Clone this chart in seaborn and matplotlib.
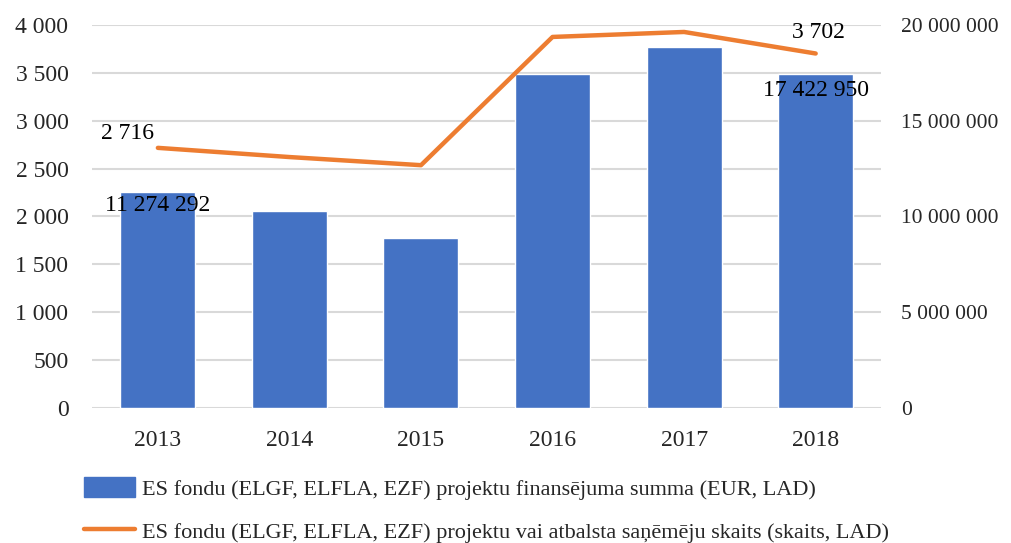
import matplotlib
matplotlib.use("Agg")
import matplotlib.pyplot as plt
import matplotlib.ticker as mticker
from matplotlib.patches import Patch
from matplotlib.lines import Line2D
import seaborn as sns
import pandas as pd

years = ["2013", "2014", "2015", "2016", "2017", "2018"]
funding_eur = [11274292, 10290000, 8880000, 17440000, 18850000, 17422950]
recipients = [2716, 2620, 2535, 3875, 3927, 3702]

bar_label = "ES fondu (ELGF, ELFLA, EZF) projektu finansējuma summa (EUR, LAD)"
line_label = "ES fondu (ELGF, ELFLA, EZF) projektu vai atbalsta saņēmēju skaits (skaits, LAD)"

df = pd.DataFrame({"year": years, "funding": funding_eur, "count": recipients})

sns.set_theme(style="white")
plt.rcParams["font.family"] = ["Liberation Serif", "DejaVu Serif"]
FS = 17

BLUE = "#4472C4"
ORANGE = "#ED7D31"
GRID = "#D9D9D9"

fig = plt.figure(figsize=(10.12, 5.43), dpi=100)
ax = fig.add_axes([0.091, 0.249, 0.780, 0.705])

sns.barplot(data=df, x="year", y="funding", color=BLUE, width=0.57,
            saturation=1, ax=ax, zorder=2)
ax.set_ylim(0, 20000000)
ax.yaxis.set_major_locator(mticker.MultipleLocator(5000000))
ax.yaxis.set_minor_locator(mticker.MultipleLocator(2500000))
ax.grid(True, which="both", axis="y", color=GRID, linewidth=1.5)
ax.set_axisbelow(True)

fmt = mticker.FuncFormatter(lambda v, p: f"{v:,.0f}".replace(",", " "))
ax.set_xlabel("")
ax.set_ylabel("")
for s in ax.spines.values():
    s.set_visible(False)

ax2 = ax.twinx()
sns.lineplot(data=df, x="year", y="count", color=ORANGE, linewidth=3.2,
             ax=ax2, sort=False, solid_capstyle="round")
ax2.set_ylim(0, 4000)
ax2.yaxis.set_major_locator(mticker.MultipleLocator(500))
ax2.yaxis.set_major_formatter(fmt)
ax2.set_ylabel("")
ax2.set_xlabel("")
for s in ax2.spines.values():
    s.set_visible(False)
ax.set_xlim(-0.5, len(years) - 0.5)

# swap sides: bars' axis on the right, line's axis on the left
ax.yaxis.tick_right()
ax.yaxis.set_major_formatter(fmt)
ax2.yaxis.tick_left()
ax.tick_params(axis="y", which="both", length=0, pad=14, labelsize=15.5,
               left=False, labelleft=False, right=True, labelright=True)
ax.tick_params(axis="x", length=0, pad=16, labelsize=FS)
ax2.tick_params(axis="y", length=0, pad=17, labelsize=FS,
                right=False, labelright=False, left=True, labelleft=True)

# data labels
for i, off in [(0, (0, -10)), (5, (0, -12))]:
    ax.annotate(fmt(funding_eur[i], None), (i, funding_eur[i]),
                xytext=off, textcoords="offset points",
                ha="center", va="center", fontsize=FS, color="black", zorder=5)
for i, off in [(0, (-22, 10)), (5, (2, 15))]:
    ax2.annotate(fmt(recipients[i], None), (i, recipients[i]),
                 xytext=off, textcoords="offset points",
                 ha="center", va="center", fontsize=FS, color="black")

handles = [Patch(facecolor=BLUE, edgecolor=BLUE),
           Line2D([0], [0], color=ORANGE, linewidth=3.2)]
fig.legend(handles, [bar_label, line_label], loc="upper left",
           bbox_to_anchor=(0.074, 0.138), frameon=False, fontsize=16,
           handlelength=2.3, handleheight=1.0, handletextpad=0.3,
           labelspacing=0.95, borderaxespad=0)

fig.savefig("out.png", dpi=100)
